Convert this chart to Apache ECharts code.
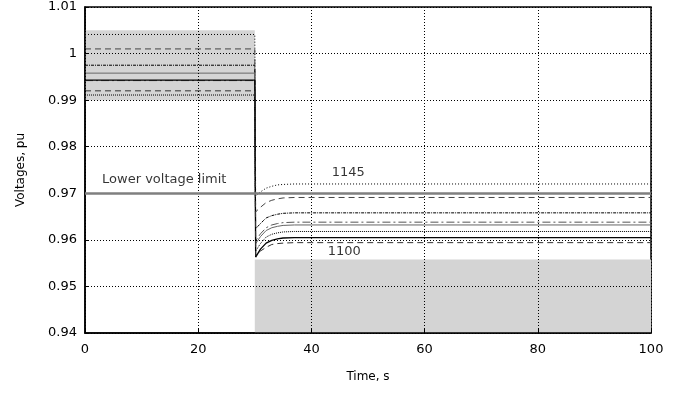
<!DOCTYPE html>
<html>
<head>
<meta charset="utf-8">
<script src="https://cdn.jsdelivr.net/npm/echarts@6/dist/echarts.min.js"></script>
<style>
html,body{margin:0;padding:0;background:#fff;}
#chart{width:694px;height:397px;}
</style>
</head>
<body>
<div id="chart"></div>
<script>
// Bus voltage traces before and after the disturbance at t = 30 s
const time = [0, 30, 30.15, 30.5, 31, 32, 33, 34, 35, 37, 40, 100];

const v1145 = [1.0041, 1.0041, 0.9694, 0.9698, 0.9703, 0.9711, 0.9715, 0.9718, 0.9719, 0.9720, 0.9720, 0.9720];
const vB2   = [1.0010, 1.0010, 0.9660, 0.9663, 0.9670, 0.9680, 0.9685, 0.9688, 0.9690, 0.9691, 0.9691, 0.9691];
const vB3   = [0.9975, 0.9975, 0.9624, 0.9627, 0.9635, 0.9647, 0.9652, 0.9655, 0.9657, 0.9658, 0.9658, 0.9658];
const vB4   = [0.9942, 0.9942, 0.9598, 0.9602, 0.9613, 0.9626, 0.9632, 0.9635, 0.9637, 0.9638, 0.9638, 0.9638];
const vB5   = [0.9958, 0.9958, 0.9592, 0.9596, 0.9607, 0.9620, 0.9626, 0.9629, 0.9631, 0.9632, 0.9632, 0.9632];
const vB6   = [0.9911, 0.9911, 0.9576, 0.9580, 0.9592, 0.9606, 0.9612, 0.9615, 0.9617, 0.9618, 0.9618, 0.9618];
const vB7   = [0.9943, 0.9943, 0.9563, 0.9567, 0.9580, 0.9593, 0.9599, 0.9602, 0.9604, 0.9605, 0.9605, 0.9605];
const v1100 = [0.9920, 0.9920, 0.9566, 0.9569, 0.9576, 0.9584, 0.9590, 0.9592, 0.9593, 0.9594, 0.9594, 0.9594];

const lowerLimit = 0.97;
const preBand = [0, 30, 0.990, 1.005];     // t0, t1, vmin, vmax
const postBand = [30, 100, 0.94, 0.9558];

const xTicks = [0, 20, 40, 60, 80, 100];
const yTicks = [0.94, 0.95, 0.96, 0.97, 0.98, 0.99, 1.00, 1.01];

const labels = [
  { name: '1145', t: 46.5, v: 0.9744 },
  { name: '1100', t: 45.8, v: 0.9574 },
  { name: 'Lower voltage limit', t: 14.0, v: 0.9730 }
];

const FONT = 'DejaVu Sans';

function pairs(vals) { return time.map((t, i) => [t, vals[i]]); }

function trace(name, vals, color, dash, width) {
  return {
    name: name, type: 'line', data: pairs(vals), showSymbol: false, silent: true,
    lineStyle: { color: color, width: width || 1, type: dash },
    z: 5
  };
}

const axisCommon = {
  axisLine: { lineStyle: { color: '#000', width: 1.5 } },
  axisTick: { inside: true, length: 4, lineStyle: { color: '#000' } },
  splitLine: { show: true, lineStyle: { color: '#000', type: [1, 2], width: 1 } },
  z: 8
};

const chart = echarts.init(document.getElementById('chart'), null, { renderer: 'canvas' });

chart.setOption({
  animation: false,
  backgroundColor: '#fff',
  grid: { left: 85, right: 43, top: 7, bottom: 64, show: true, borderColor: '#000', borderWidth: 1.5 },
  xAxis: Object.assign({
    type: 'value', min: xTicks[0], max: xTicks[xTicks.length - 1], interval: 20,
    name: 'Time, s', nameLocation: 'middle', nameGap: 38,
    nameTextStyle: { fontFamily: FONT, fontSize: 12, color: '#000' },
    axisLabel: { fontFamily: FONT, fontSize: 13, color: '#000', margin: 10 }
  }, axisCommon),
  yAxis: Object.assign({
    type: 'value', min: yTicks[0], max: yTicks[yTicks.length - 1], interval: 0.01,
    name: 'Voltages, pu', nameLocation: 'middle', nameGap: 58, nameRotate: 90,
    nameTextStyle: { fontFamily: FONT, fontSize: 12, color: '#000' },
    axisLabel: { fontFamily: FONT, fontSize: 13, color: '#000', margin: 8,
      formatter: v => String(+v.toFixed(2)) }
  }, axisCommon),
  series: [
    {
      name: 'bands', type: 'line', data: [], silent: true,
      markArea: {
        silent: true, z: 1,
        itemStyle: { color: '#d4d4d4' },
        data: [
          [{ coord: [preBand[0], preBand[2]] }, { coord: [preBand[1], preBand[3]] }],
          [{ coord: [postBand[0], postBand[2]] }, { coord: [postBand[1], postBand[3]] }]
        ]
      },
      z: 1
    },
    {
      name: 'limit', type: 'line', data: [], silent: true,
      markLine: {
        silent: true, symbol: 'none', z: 9,
        lineStyle: { color: '#7f7f7f', width: 2.5, type: 'solid' },
        label: { show: false },
        data: [{ yAxis: lowerLimit }]
      },
      z: 9
    },
    trace('1145', v1145, '#000', [1, 2]),
    trace('b2', vB2, '#444', [6, 4]),
    trace('b3', vB3, '#000', [3, 1, 1, 1]),
    trace('b4', vB4, '#555', [8, 3, 2, 3]),
    trace('b5', vB5, '#666', 'solid'),
    trace('b6', vB6, '#000', [1, 1]),
    trace('b7', vB7, '#000', 'solid', 1.3),
    trace('1100', v1100, '#333', [6, 4]),
    {
      name: 'labels', type: 'scatter', symbolSize: 0, silent: true,
      data: labels.map(d => ({ value: [d.t, d.v], name: d.name })),
      label: { show: true, position: 'inside', formatter: p => p.name,
        fontFamily: FONT, fontSize: 13, color: '#000' },
      z: 10
    }
  ]
});
</script>
</body>
</html>
